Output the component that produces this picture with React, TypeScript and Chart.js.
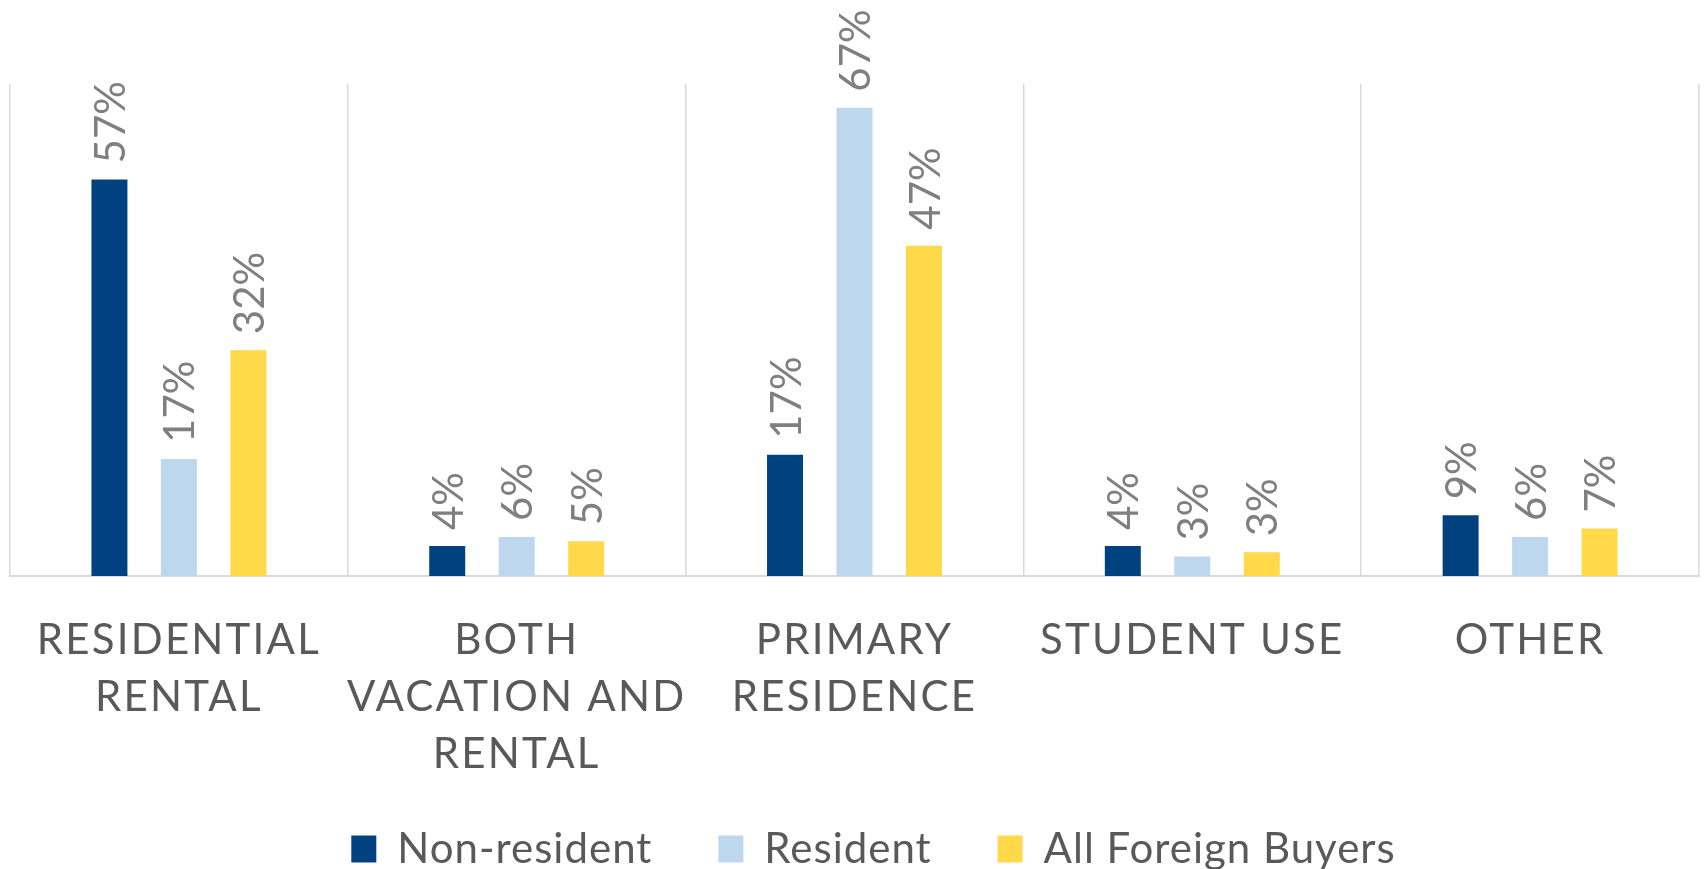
import React, { useEffect, useRef } from "react";
import { Chart, registerables } from "chart.js";

Chart.register(...registerables);

const categories = [
  ["RESIDENTIAL", "RENTAL"],
  ["BOTH", "VACATION AND", "RENTAL"],
  ["PRIMARY", "RESIDENCE"],
  ["STUDENT USE"],
  ["OTHER"],
];
const seriesNames = ["Non-resident", "Resident", "All Foreign Buyers"];
const nonResident = [56.9, 4.3, 17.4, 4.3, 8.7];
const resident = [16.8, 5.6, 67.2, 2.8, 5.6];
const allForeign = [32.4, 5.0, 47.4, 3.4, 6.8];
const seriesColors = ["#00427F", "#BDD7EE", "#FFD94A"];

const FONT = "Lato, 'Open Sans', sans-serif";

const valueLabels = {
  id: "valueLabels",
  afterDatasetsDraw(chart: any) {
    const ctx = chart.ctx;
    ctx.save();
    ctx.letterSpacing = "0px";
    ctx.font = `42px ${FONT}`;
    ctx.fillStyle = "#7F7F7F";
    ctx.textAlign = "left";
    ctx.textBaseline = "middle";
    chart.data.datasets.forEach((ds: any, i: number) => {
      const meta = chart.getDatasetMeta(i);
      meta.data.forEach((el: any, j: number) => {
        ctx.save();
        ctx.translate(el.x + 2, el.y - 16);
        ctx.rotate(-Math.PI / 2);
        ctx.fillText(`${Math.round(ds.data[j])}%`, 0, 0);
        ctx.restore();
      });
    });
    ctx.restore();
  },
};

const spacing = {
  id: "spacing",
  afterLayout(chart: any) {
    // let the third line of the category labels show below the axis box
    chart.scales.x.bottom = chart.height;
    const legend = chart.legend;
    if (legend && !legend.__wrapped) {
      const orig = legend.draw.bind(legend);
      legend.draw = () => {
        const prev = chart.ctx.letterSpacing;
        chart.ctx.letterSpacing = "1px";
        orig();
        chart.ctx.letterSpacing = prev;
      };
      legend.__wrapped = true;
    }
  },
  beforeDraw(chart: any) {
    chart.ctx.letterSpacing = "2.2px";
  },
  beforeDatasetsDraw(chart: any) {
    chart.ctx.letterSpacing = "0px";
  },
};

export default function App() {
  const ref = useRef<HTMLCanvasElement | null>(null);
  useEffect(() => {
    document.body.style.margin = "0";
    const canvas = ref.current!;
    const chart = new Chart(canvas, {
      type: "bar",
      data: {
        labels: categories as any,
        datasets: [nonResident, resident, allForeign].map((d, i) => ({
          label: seriesNames[i],
          data: d,
          backgroundColor: seriesColors[i],
          borderWidth: 0,
          categoryPercentage: 0.617,
          barPercentage: 0.518,
        })),
      },
      options: {
        responsive: false,
        animation: false,
        layout: { padding: { top: 84, left: 10, right: 5, bottom: -11 } },
        scales: {
          x: {
            grid: {
              color: "#D9D9D9",
              lineWidth: 1.5,
              drawTicks: false,
              offset: true,
            },
            border: { color: "#D9D9D9", width: 2 },
            ticks: {
              color: "#595959",
              font: { family: FONT, size: 42, lineHeight: 1.36 },
              padding: 36,
              autoSkip: false,
              maxRotation: 0,
              minRotation: 0,
            },
            afterFit: (scale: any) => {
              scale.height = 186;
            },
          },
          y: {
            display: false,
            min: 0,
            max: 70.6,
          },
        },
        plugins: {
          legend: {
            position: "bottom",
            labels: {
              color: "#595959",
              font: { family: FONT, size: 42 },
              boxWidth: 25,
              boxHeight: 27,
              padding: 66,
            },
          },
          tooltip: { enabled: false },
        },
      },
      plugins: [valueLabels, spacing],
    });
    return () => chart.destroy();
  }, []);
  return (
    <div style={{ width: 1704, height: 869, position: "relative", background: "#fff" }}>
      <canvas ref={ref} width={1704} height={869} style={{ width: 1704, height: 869, display: "block" }} />
    </div>
  );
}
